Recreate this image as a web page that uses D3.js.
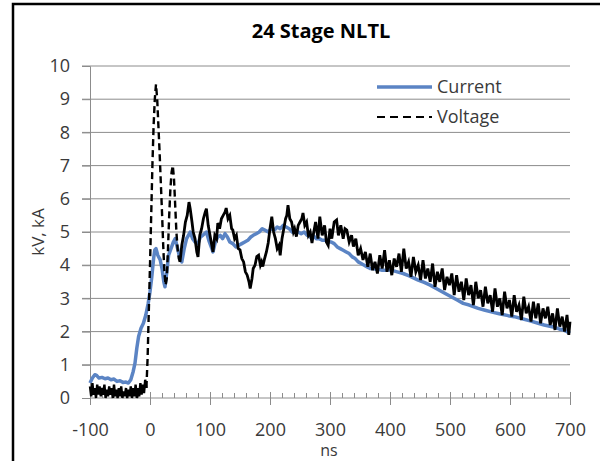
<!DOCTYPE html>
<html>
<head>
<meta charset="utf-8">
<script src="https://cdn.jsdelivr.net/npm/d3@7"></script>
<style>
  html, body { margin: 0; background: #fff; overflow: hidden; }
  svg { display: block; }
  text { font-family: "Open Sans", sans-serif; fill: #3a3a3a; }
</style>
</head>
<body>
<svg id="viz"></svg>
<script>
const svg = d3.select("#viz").attr("width", 600).attr("height", 461);

// Data
const xTicks = [-100, 0, 100, 200, 300, 400, 500, 600, 700];
const yTicks = [0, 1, 2, 3, 4, 5, 6, 7, 8, 9, 10];

const currentT = [-100, -96, -92, -89, -85, -80, -75, -70, -65, -60, -55, -50, -45, -40, -36, -32, -28, -25, -22, -19, -15, -11, -7, -3,
  0, 3, 6, 8, 10, 13, 17, 20, 23, 25, 28, 31, 35, 39, 42, 46, 50, 53, 57, 61, 64, 67, 71, 75, 80, 84, 88, 94, 98,
  102, 105, 109, 113, 117, 121, 125, 129, 133, 138, 143, 148, 153, 158, 163, 168, 172, 177, 182, 187, 192, 197,
  202, 207, 212, 217, 222, 227, 232, 237, 242, 247, 252, 257, 262, 267, 272, 277, 282, 287, 292, 297,
  302, 307, 312, 317, 322, 327, 332, 337, 342, 347, 352, 357, 362, 367, 372, 377, 382, 387, 392, 397,
  402, 412, 422, 432, 447, 457, 467, 477, 492, 502, 512, 522, 532, 547, 557, 572, 582, 597, 607, 622, 632, 647, 657, 672, 682, 689, 695, 700];
const currentV = [0.45, 0.6, 0.7, 0.68, 0.6, 0.62, 0.58, 0.6, 0.55, 0.57, 0.5, 0.52, 0.47, 0.48, 0.45, 0.55, 0.8, 1.05, 1.5, 1.85, 2.1, 2.25, 2.5, 2.85,
  3.2, 3.65, 4.2, 4.46, 4.5, 4.3, 4.16, 3.9, 3.5, 3.35, 3.8, 4.3, 4.5, 4.7, 4.8, 4.5, 4.2, 4.1, 4.5, 4.8, 4.9, 5.0, 4.8, 4.7, 4.65, 4.85, 4.9, 5.0, 4.75,
  4.55, 4.4, 4.7, 4.85, 4.9, 4.8, 4.95, 4.85, 4.7, 4.65, 4.55, 4.6, 4.65, 4.7, 4.75, 4.85, 4.9, 4.95, 5.0, 5.1, 5.05, 5.0,
  5.1, 5.05, 5.15, 5.1, 5.2, 5.15, 5.1, 5.0, 5.05, 5.0, 4.95, 5.0, 4.9, 4.85, 4.9, 4.8, 4.8, 4.75, 4.75, 4.7,
  4.7, 4.65, 4.55, 4.5, 4.45, 4.4, 4.35, 4.25, 4.2, 4.1, 4.05, 4.0, 3.95, 3.9, 3.9, 3.88, 3.87, 3.85, 3.85, 3.86,
  3.85, 3.8, 3.75, 3.68, 3.55, 3.48, 3.4, 3.3, 3.15, 3.05, 2.95, 2.85, 2.8, 2.7, 2.65, 2.58, 2.54, 2.48, 2.45, 2.38, 2.33, 2.25, 2.2, 2.14, 2.08, 2.05, 2.0, 1.95];

const voltageT = [-100, -98, -96, -94, -92, -90, -88, -86, -84, -82, -80, -78, -76, -74, -72, -70, -68, -66, -64, -62, -60, -58, -56, -54, -52, -50,
  -48, -46, -44, -42, -40, -38, -36, -34, -32, -30, -28, -26, -24, -22, -20, -18, -16, -14, -12, -10, -8, -6, -4, -2,
  0, 2, 4, 6, 8, 10, 12, 14, 16, 18, 20, 22, 24, 26, 28, 30, 32, 34, 36, 38, 40, 42, 44, 46, 48,
  50, 53, 56, 59, 62, 65, 67, 70, 72, 75, 78, 80, 83, 86, 89, 92, 94, 97, 100, 103, 105, 108, 111, 113, 116, 119, 122, 125, 127,
  130, 133, 136, 138, 141, 144, 147, 150, 153, 156, 159, 162, 165, 167, 170, 172, 175, 178, 181, 184, 186, 188, 191, 194, 197,
  200, 203, 206, 209, 212, 215, 217, 220, 223, 226, 228, 230, 233, 236, 239, 241, 244, 247, 250, 253, 255, 258, 261, 264, 267, 270,
  272, 276, 280, 283, 287, 291, 294, 297, 300, 303, 307, 311, 314, 318, 322, 325, 328, 332, 336, 339, 343, 347, 351, 355, 359,
  363, 367, 371, 375, 379, 383, 387, 391, 395, 399, 403, 407, 411, 415, 419, 423, 427, 431, 435, 439, 443, 447, 451, 455, 459,
  463, 467, 471, 475, 479, 483, 487, 491, 495, 499, 503, 507, 511, 515, 519, 523, 527, 531, 535, 539, 543, 547, 551, 555, 559,
  563, 567, 571, 575, 579, 583, 587, 591, 595, 599, 603, 607, 611, 615, 619, 623, 627, 631, 635, 639, 643, 647, 651, 655, 659,
  663, 667, 671, 675, 679, 683, 687, 691, 695, 698, 700];
const voltageV = [0.35, 0.05, 0.45, 0.1, 0.3, 0.0, 0.4, 0.1, 0.35, 0.05, 0.3, 0.1, 0.4, 0.0, 0.25, 0.05, 0.35, 0.1, 0.3, 0.0, 0.4, 0.05, 0.25, 0.0, 0.3, 0.05,
  0.35, 0.0, 0.2, 0.05, 0.3, 0.0, 0.25, 0.05, 0.35, 0.0, 0.3, 0.05, 0.4, 0.0, 0.3, 0.05, 0.45, 0.1, 0.4, 0.15, 0.55, 0.3, 1.2, 2.6,
  4.0, 5.5, 7.0, 8.2, 9.0, 9.45, 9.0, 8.2, 7.4, 6.5, 5.6, 4.6, 3.8, 3.4, 3.6, 4.5, 5.5, 6.3, 6.8, 7.0, 6.6, 5.8, 5.0, 4.5, 4.2,
  4.1, 4.6, 4.9, 5.3, 5.5, 5.9, 5.7, 5.3, 5.0, 4.8, 4.4, 4.25, 4.9, 5.1, 5.4, 5.6, 5.7, 5.2, 4.9, 4.6, 4.4, 4.9, 4.8, 5.27, 5.1, 5.4, 5.5, 5.6, 5.72,
  5.4, 5.5, 5.1, 5.06, 4.8, 4.9, 4.5, 4.46, 4.2, 4.1, 3.8, 3.7, 3.5, 3.3, 3.6, 3.9, 4.0, 4.26, 4.3, 4.0, 4.1, 3.96, 4.2, 4.4, 4.67,
  5.1, 5.46, 5.0, 4.8, 4.5, 4.6, 4.3, 4.8, 5.1, 5.4, 5.5, 5.81, 5.4, 5.3, 5.0, 5.1, 4.86, 5.2, 5.3, 5.4, 5.57, 5.2, 5.3, 4.9, 5.0, 4.67,
  4.9, 5.3, 4.8, 5.46, 4.9, 5.2, 4.7, 4.6, 5.1, 4.8, 5.3, 5.36, 4.9, 5.2, 4.8, 5.1, 5.06, 4.7, 4.9, 4.56, 4.8, 4.3, 4.5, 4.16, 4.4,
  3.95, 4.35, 3.85, 4.1, 3.75, 4.3, 3.9, 4.45, 3.8, 4.15, 3.7, 4.2, 3.95, 4.35, 3.8, 4.5, 3.9, 4.1, 3.65, 4.25, 3.8, 4.0, 3.55, 4.15, 3.6,
  3.9, 3.5, 4.05, 3.35, 3.8, 3.5, 3.9, 3.25, 3.65, 3.4, 3.75, 3.1, 3.7, 3.2, 3.5, 2.95, 3.6, 3.1, 3.4, 2.8, 3.5, 3.0, 3.25, 2.75, 3.35,
  2.85, 3.1, 2.6, 3.3, 2.75, 3.0, 2.5, 3.2, 2.7, 2.95, 2.45, 3.1, 2.6, 2.8, 2.35, 3.05, 2.55, 2.75, 2.3, 2.9, 2.4, 2.85, 2.25, 2.7, 2.4,
  2.75, 2.2, 2.55, 2.05, 2.7, 2.15, 2.45, 2.0, 2.5, 1.9, 2.3];

const current = currentT.map((t, i) => [t, currentV[i]]);
const voltage = voltageT.map((t, i) => [t, voltageV[i]]);

const x = d3.scaleLinear().domain([-100, 700]).range([90, 570]);
const y = d3.scaleLinear().domain([0, 10]).range([398, 66]);

const blue = "#5b84c4";
const grid = "#8c8c8c";

// outer frame: only its left and top sides fall inside the picture
svg.append("path")
  .attr("d", "M13,461V4H600")
  .attr("fill", "none")
  .attr("stroke", "#000")
  .attr("stroke-width", 2.5);

// horizontal gridlines, with a short tick left of the axis
svg.append("g")
  .selectAll("line")
  .data(yTicks.filter(d => d > 0))
  .join("line")
  .attr("x1", 82).attr("x2", 570)
  .attr("y1", d => y(d)).attr("y2", d => y(d))
  .attr("stroke", grid)
  .attr("stroke-width", 1);

// y axis
const yAxis = svg.append("g")
  .attr("transform", "translate(90,0)")
  .call(d3.axisLeft(y).tickValues(yTicks).tickSize(8).tickPadding(12).tickFormat(d => String(d)));
yAxis.select(".domain").attr("stroke", grid);
yAxis.selectAll(".tick line").attr("stroke", grid);
yAxis.selectAll("text").attr("font-size", 18).attr("fill", "#3a3a3a").attr("font-family", "Open Sans");

// x axis: minor ticks every 20 ns above the line, major ticks crossing it
const xMinor = svg.append("g").attr("transform", "translate(0,398)");
xMinor.call(d3.axisBottom(x).ticks(40).tickSize(-5).tickFormat(""));
xMinor.select(".domain").remove();
xMinor.selectAll(".tick line").attr("stroke", grid);

const xMajor = svg.append("g").attr("transform", "translate(0,398)")
  .call(d3.axisBottom(x).tickValues(xTicks).tickSize(7).tickPadding(18).tickFormat(d => String(d)));
xMajor.select(".domain").attr("stroke", grid).attr("d", "M90,0H570");
xMajor.selectAll(".tick line").attr("stroke", grid).attr("y1", -6);
xMajor.selectAll("text").attr("font-size", 18).attr("fill", "#3a3a3a").attr("font-family", "Open Sans");

// series
const line = d3.line().x(d => x(d[0])).y(d => y(d[1]));

svg.append("path")
  .datum(current)
  .attr("d", line)
  .attr("fill", "none")
  .attr("stroke", blue)
  .attr("stroke-width", 3.5)
  .attr("stroke-linejoin", "round");

// the voltage trace is dashed, but where it is noisy the dashes merge into a solid band
const vParts = [
  { data: voltage.filter(d => d[0] <= -6), dash: null, w: 2.4 },
  { data: voltage.filter(d => d[0] >= -6 && d[0] <= 50), dash: "7,4", w: 2.4 },
  { data: voltage.filter(d => d[0] >= 50), dash: null, w: 2.8 }
];
svg.append("g").selectAll("path")
  .data(vParts)
  .join("path")
  .attr("d", d => line(d.data))
  .attr("fill", "none")
  .attr("stroke", "#000")
  .attr("stroke-width", d => d.w)
  .attr("stroke-dasharray", d => d.dash);

// title and axis titles
svg.append("text")
  .attr("x", 321).attr("y", 38)
  .attr("text-anchor", "middle")
  .attr("font-size", 20)
  .attr("font-weight", "bold")
  .style("fill", "#000")
  .text("24 Stage NLTL");

svg.append("text")
  .attr("transform", "translate(44,232) rotate(-90)")
  .attr("text-anchor", "middle")
  .attr("font-size", 17)
  .text("kV, kA");

svg.append("text")
  .attr("x", 329).attr("y", 456)
  .attr("text-anchor", "middle")
  .attr("font-size", 16)
  .text("ns");

// legend
const legend = [
  { name: "Current", color: blue, width: 3.5, dash: null, y: 87 },
  { name: "Voltage", color: "#000", width: 2, dash: "8,5", y: 117 }
];
const lg = svg.append("g").selectAll("g").data(legend).join("g");
lg.append("line")
  .attr("x1", 377).attr("x2", 432)
  .attr("y1", d => d.y).attr("y2", d => d.y)
  .attr("stroke", d => d.color)
  .attr("stroke-width", d => d.width)
  .attr("stroke-dasharray", d => d.dash);
lg.append("text")
  .attr("x", 437).attr("y", d => d.y + 6)
  .attr("font-size", 18)
  .text(d => d.name);
</script>
</body>
</html>
